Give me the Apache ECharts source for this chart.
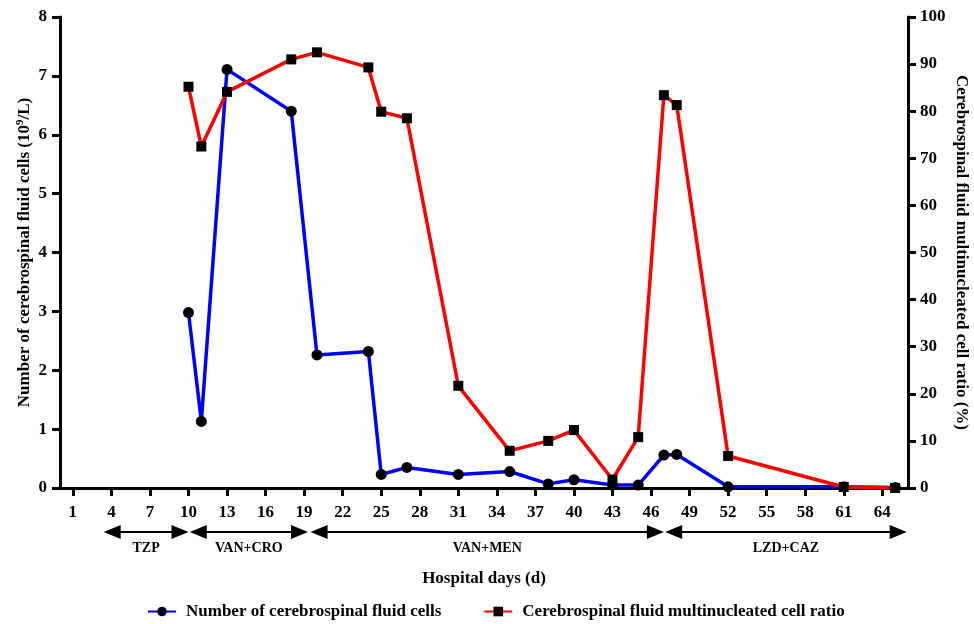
<!DOCTYPE html>
<html>
<head>
<meta charset="utf-8">
<script src="https://cdn.jsdelivr.net/npm/echarts@6/dist/echarts.min.js"></script>
<style>html,body{margin:0;padding:0;background:#fff;}#c{width:974px;height:624px;}</style>
</head>
<body>
<div id="c"></div>
<script>
const days = [10, 11, 13, 18, 20, 24, 25, 27, 31, 35, 38, 40, 43, 45, 47, 48, 52, 61, 65];
const cells = [2.98, 1.13, 7.11, 6.40, 2.26, 2.32, 0.23, 0.35, 0.23, 0.28, 0.07, 0.14, 0.05, 0.05, 0.56, 0.57, 0.02, 0.02, 0.01];
const ratio = [85.2, 72.5, 84.1, 91.0, 92.5, 89.3, 79.9, 78.5, 21.7, 7.9, 10.0, 12.3, 1.8, 10.8, 83.4, 81.3, 6.8, 0.2, 0];
const xTicks = [1, 4, 7, 10, 13, 16, 19, 22, 25, 28, 31, 34, 37, 40, 43, 46, 49, 52, 55, 58, 61, 64];
const phaseNames = ['TZP', 'VAN+CRO', 'VAN+MEN', 'LZD+CAZ'];
const phaseStart = [3.4, 10.1, 19.5, 47.1];
const phaseEnd = [10.0, 19.3, 47.0, 65.9];

const FONT = 'Liberation Serif';
const chart = echarts.init(document.getElementById('c'));
const axisCommon = {
  nameMoveOverlap: false,
  axisLine: { show: true, lineStyle: { color: '#000', width: 3 } },
  axisTick: { show: true, inside: false, length: 8, lineStyle: { color: '#000', width: 3 } },
  splitLine: { show: false },
  axisLabel: { color: '#000', fontFamily: FONT, fontWeight: 'bold', fontSize: 17 },
  nameTextStyle: { color: '#000', fontFamily: FONT, fontWeight: 'bold', fontSize: 17 }
};
chart.setOption({
  animation: false,
  backgroundColor: '#fff',
  grid: { left: 60, right: 66, top: 17, bottom: 136, containLabel: false, outerBoundsMode: 'none' },
  legend: {
    top: 598, left: 142, itemWidth: 28, itemHeight: 12, itemGap: 42,
    textStyle: { color: '#000', fontFamily: FONT, fontWeight: 'bold', fontSize: 17, padding: [0, 0, 0, 5] },
    data: ['Number of cerebrospinal fluid cells', 'Cerebrospinal fluid multinucleated cell ratio']
  },
  xAxis: Object.assign({}, axisCommon, {
    type: 'value', min: 0, max: 66,
    name: 'Hospital days (d)', nameLocation: 'middle', nameGap: 82,
    axisTick: Object.assign({}, axisCommon.axisTick, { customValues: xTicks }),
    axisLabel: Object.assign({}, axisCommon.axisLabel, { customValues: xTicks, margin: 16 })
  }),
  yAxis: [
    Object.assign({}, axisCommon, {
      type: 'value', min: 0, max: 8, interval: 1, position: 'left',
      name: '{a|Number of cerebrospinal fluid cells (10}{s|9}{a|/L)}',
      nameLocation: 'middle', nameGap: 26,
      axisLabel: Object.assign({}, axisCommon.axisLabel, { margin: 13 }),
      nameTextStyle: {
        color: '#000', fontFamily: FONT, fontWeight: 'bold', fontSize: 17,
        rich: {
          a: { color: '#000', fontFamily: FONT, fontWeight: 'bold', fontSize: 17 },
          s: { color: '#000', fontFamily: FONT, fontWeight: 'bold', fontSize: 11, padding: [0, 0, 8, 0] }
        }
      }
    }),
    Object.assign({}, axisCommon, {
      type: 'value', min: 0, max: 100, interval: 10, position: 'right',
      name: 'Cerebrospinal fluid multinucleated cell ratio (%)',
      nameLocation: 'middle', nameGap: 45, nameRotate: -90,
      axisLabel: Object.assign({}, axisCommon.axisLabel, { margin: 12 })
    })
  ],
  series: [
    {
      name: 'Number of cerebrospinal fluid cells', type: 'line', yAxisIndex: 0,
      data: days.map((d, i) => [d, cells[i]]),
      symbol: 'circle', symbolSize: 11,
      lineStyle: { color: '#0000ff', width: 3.5 },
      itemStyle: { color: '#000' }
    },
    {
      name: 'Cerebrospinal fluid multinucleated cell ratio', type: 'line', yAxisIndex: 1,
      data: days.map((d, i) => [d, ratio[i]]),
      symbol: 'rect', symbolSize: 10,
      lineStyle: { color: '#ff0000', width: 3.5 },
      itemStyle: { color: '#000' }
    }
  ]
});

// Treatment phase arrows under the x axis
const arrowY = 532, labelY = 548, headL = 17, headH = 7;
const graphics = [];
phaseNames.forEach((nm, i) => {
  const x1 = chart.convertToPixel({ xAxisIndex: 0 }, phaseStart[i]);
  const x2 = chart.convertToPixel({ xAxisIndex: 0 }, phaseEnd[i]);
  graphics.push({ type: 'line', shape: { x1: x1 + headL - 2, y1: arrowY, x2: x2 - headL + 2, y2: arrowY }, style: { stroke: '#000', lineWidth: 2 } });
  graphics.push({ type: 'polygon', shape: { points: [[x1, arrowY], [x1 + headL, arrowY - headH], [x1 + headL, arrowY + headH]] }, style: { fill: '#000' } });
  graphics.push({ type: 'polygon', shape: { points: [[x2, arrowY], [x2 - headL, arrowY - headH], [x2 - headL, arrowY + headH]] }, style: { fill: '#000' } });
  graphics.push({ type: 'text', x: (x1 + x2) / 2, y: labelY, style: { text: nm, fill: '#000', font: 'bold 14px "Liberation Serif"', textAlign: 'center', textVerticalAlign: 'middle' } });
});
chart.setOption({ graphic: graphics });
</script>
</body>
</html>
